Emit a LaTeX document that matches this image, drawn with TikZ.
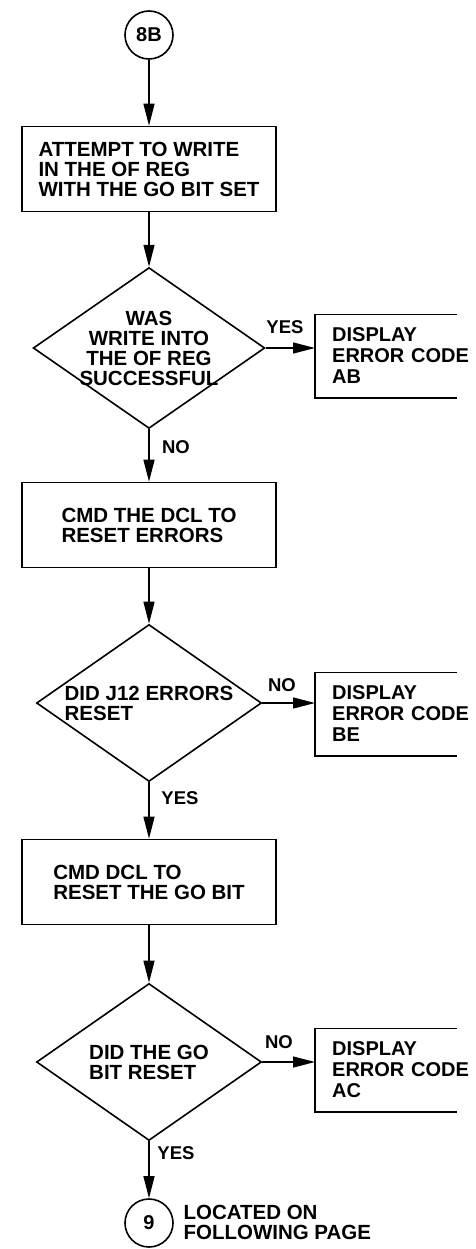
\documentclass[tikz,border=0pt]{standalone}
\usepackage{fontspec}
\setmainfont{Liberation Sans}
\usetikzlibrary{shapes.geometric,arrows.meta}

\newcommand{\boxfont}{\fontsize{20.5}{20}\selectfont\bfseries}
\newcommand{\errfont}{\fontsize{20}{21}\selectfont\bfseries}
\newcommand{\lblfont}{\fontsize{18.5}{21}\selectfont\bfseries}

\tikzset{
  flowbox/.style={draw, rectangle, line width=1.6pt, minimum width=254pt, minimum height=85pt, align=left, font=\boxfont},
  decision/.style={draw, diamond, aspect=1.44, inner sep=-3pt, line width=1.6pt, minimum width=225pt, minimum height=157pt, font=\boxfont},
  connector/.style={draw, circle, line width=1.6pt, minimum size=48pt, inner sep=0pt, font=\fontsize{20}{20}\selectfont\bfseries},
  errbox/.style={anchor=west, minimum height=83pt, inner ysep=0pt, inner xsep=17pt, text width=145pt, align=left, font=\errfont},
  errframe/.style={line width=1.6pt},
  yesno/.style={font=\lblfont},
  flow/.style={-{Triangle[length=22pt,width=11pt]}, line width=1.3pt}
}

\begin{document}
\begin{tikzpicture}[x=1pt,y=-1pt]
\useasboundingbox (0,0) rectangle (475,1249);

\node[connector] (c8b) at (149,35) {8B};
\node[flowbox] (attempt) at (149,169) {ATTEMPT TO WRITE\\IN THE OF REG\\WITH THE GO BIT SET};
\node[decision, align=center] (wrok) at (149,348) {WAS\\WRITE INTO\\THE OF REG\\SUCCESSFUL};
\node[errbox] (errab) at (315,356) {DISPLAY\\ERROR CODE\\AB};
\node[flowbox] (rsterr) at (149,525) {CMD THE DCL TO\\RESET ERRORS};
\node[decision, align=left] (j12ok) at (149,703) {DID J12 ERRORS\\RESET};
\node[errbox] (errbe) at (315,714) {DISPLAY\\ERROR CODE\\BE};
\node[flowbox] (rstgo) at (149,882) {CMD DCL TO\\RESET THE GO BIT};
\node[decision, align=left] (gook) at (149,1062) {DID THE GO\\BIT RESET};
\node[errbox] (errac) at (315,1070) {DISPLAY\\ERROR CODE\\AC};
\node[connector] (c9) at (149,1223) {9};
\node[anchor=west, align=left, font=\boxfont] (locnote) at (180,1222) {LOCATED ON\\FOLLOWING PAGE};

\node[yesno] (yes1) at (285,327) {YES};
\node[yesno] (no1) at (176,447) {NO};
\node[yesno] (no2) at (282,685) {NO};
\node[yesno] (yes2) at (180,798) {YES};
\node[yesno] (no3) at (279,1042) {NO};
\node[yesno] (yes3) at (176,1153) {YES};

\foreach \e in {errab,errbe,errac}
  \draw[errframe] ([xshift=142pt]\e.north west) -- (\e.north west) -- (\e.south west) -- ([xshift=142pt]\e.south west);

\draw[flow] (c8b) -- (attempt);
\draw[flow] (attempt) -- (wrok);
\draw[flow] (wrok) -- (rsterr);
\draw[flow] (wrok.east) -- (wrok.east -| errab.west);
\draw[flow] (rsterr) -- (j12ok);
\draw[flow] (j12ok) -- (rstgo);
\draw[flow] (j12ok.east) -- (j12ok.east -| errbe.west);
\draw[flow] (rstgo) -- (gook);
\draw[flow] (gook.east) -- (gook.east -| errac.west);
\draw[flow] (gook) -- (c9);
\end{tikzpicture}
\end{document}
